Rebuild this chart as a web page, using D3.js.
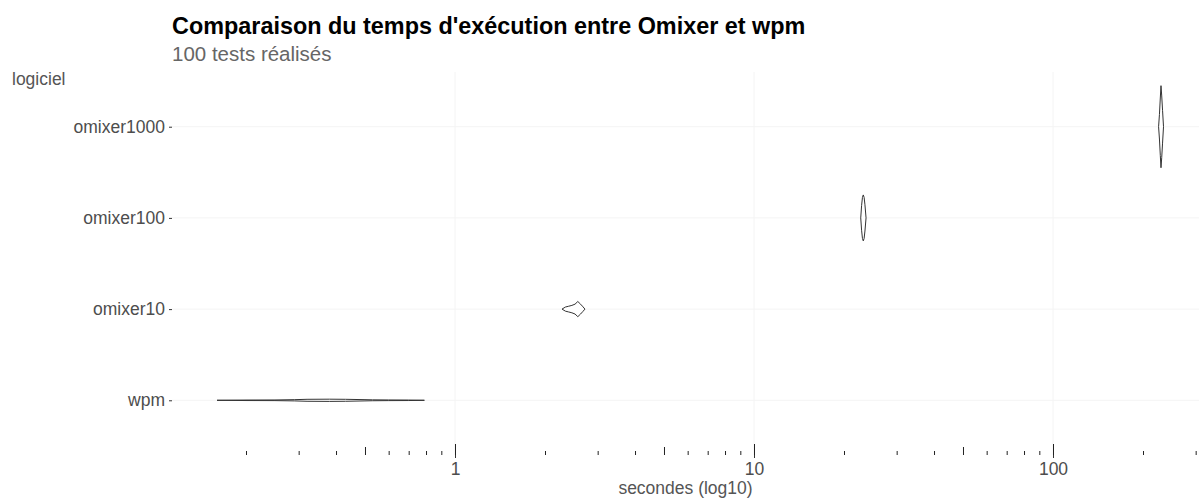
<!DOCTYPE html>
<html>
<head>
<meta charset="utf-8">
<script src="https://cdn.jsdelivr.net/npm/d3@7"></script>
<style>
  html, body { margin: 0; padding: 0; background: #fff; }
  svg { display: block; font-family: "Liberation Sans", Arial, sans-serif; }
</style>
</head>
<body>
<svg id="chart" width="1199" height="498"></svg>
<script>
/* ---------- data ---------- */
const categories = ['omixer1000', 'omixer100', 'omixer10', 'wpm'];

// violin outlines: [seconds, relative density (1 = widest violin)]
const profOmixer1000 = [[225.5, 0], [227, 0.3], [228.5, 0.7], [229.7, 1.0], [231, 0.75], [232.5, 0.4], [234.2, 0]];
const profOmixer100  = [[22.75, 0], [22.9, 0.3], [23.05, 0.5], [23.2, 0.56], [23.35, 0.5], [23.5, 0.32], [23.7, 0]];
const profOmixer10   = [[2.28, 0], [2.34, 0.05], [2.40, 0.07], [2.46, 0.09], [2.52, 0.12], [2.575, 0.185], [2.63, 0.12], [2.68, 0.055], [2.72, 0]];
const profWpm        = [[0.16, 0], [0.2, 0.006], [0.25, 0.008], [0.29, 0.015], [0.32, 0.024], [0.38, 0.027], [0.43, 0.024], [0.5, 0.015], [0.53, 0.011], [0.6, 0.008], [0.7, 0.006], [0.79, 0]];
const profiles = [profOmixer1000, profOmixer100, profOmixer10, profWpm];

const majorTicks = [1, 10, 100];
const midTicks   = [0.5, 5, 50];
const minorTicks = [0.2, 0.3, 0.4, 0.6, 0.7, 0.8, 0.9, 2, 3, 4, 6, 7, 8, 9, 20, 30, 40, 60, 70, 80, 90, 200, 300];

const title    = "Comparaison du temps d'exécution entre Omixer et wpm";
const subtitle = '100 tests réalisés';
const yTitle   = 'logiciel';
const xTitle   = 'secondes (log10)';

/* ---------- layout ---------- */
const W = 1199, H = 498;
const panel = { left: 172, right: 1199, top: 72, bottom: 455 };
const decade = 299;                  // px per power of ten
const xOne = 455;                    // where 1 s sits

const svg = d3.select('#chart');

const x = d3.scaleLog()
  .domain([0.1, 1000])
  .range([xOne - decade, xOne + 3 * decade]);

const y = d3.scalePoint()
  .domain(categories)
  .range([panel.top, panel.bottom])
  .padding(0.6);

const halfBand = 0.45 * y.step();

/* ---------- grid ---------- */
const grid = svg.append('g').attr('class', 'grid');
grid.selectAll('line.v')
  .data(majorTicks)
  .join('line')
  .attr('class', 'v')
  .attr('x1', d => x(d)).attr('x2', d => x(d))
  .attr('y1', panel.top).attr('y2', panel.bottom)
  .attr('stroke', '#f4f4f4').attr('stroke-width', 1);

grid.selectAll('line.h')
  .data(categories)
  .join('line')
  .attr('class', 'h')
  .attr('x1', panel.left).attr('x2', panel.right)
  .attr('y1', d => y(d)).attr('y2', d => y(d))
  .attr('stroke', '#f4f4f4').attr('stroke-width', 1);

/* ---------- violins ---------- */
const area = d3.area()
  .x(d => x(d[0]))
  .y0(d => d.cy - d[1] * halfBand)
  .y1(d => d.cy + d[1] * halfBand);

svg.append('g').attr('class', 'violins')
  .selectAll('path')
  .data(categories)
  .join('path')
  .attr('d', (c, i) => {
    const cy = y(c);
    const pts = profiles[i].map(p => Object.assign([p[0], p[1]], { cy }));
    return area(pts);
  })
  .attr('fill', '#fff')
  .attr('stroke', '#333')
  .attr('stroke-width', 1);

/* ---------- log ticks (annotation_logticks) ---------- */
function logAxis(values, size) {
  const ax = d3.axisTop(x).tickValues(values).tickSize(size).tickFormat('');
  const g = svg.append('g')
    .attr('transform', `translate(0,${panel.bottom})`)
    .call(ax);
  g.select('.domain').remove();
  g.selectAll('line').attr('stroke', '#222').attr('stroke-width', 1);
}
logAxis(minorTicks, 4);
logAxis(midTicks, 8);
logAxis(majorTicks, 11);

/* ---------- x axis ---------- */
const xAxis = svg.append('g')
  .attr('transform', `translate(0,${panel.bottom})`)
  .call(d3.axisBottom(x).tickValues(majorTicks).tickSize(3).tickPadding(5).tickFormat(d3.format('d')));
xAxis.select('.domain').remove();
xAxis.selectAll('line').attr('stroke', '#333');
xAxis.selectAll('text')
  .attr('fill', '#4d4d4d')
  .style('font-size', '17.5px')
  .style('font-family', '"Liberation Sans", Arial, sans-serif');

/* ---------- y axis ---------- */
const yAxis = svg.append('g')
  .attr('transform', `translate(${panel.left},0)`)
  .call(d3.axisLeft(y).tickSize(3).tickPadding(4));
yAxis.select('.domain').remove();
yAxis.selectAll('line').attr('stroke', '#333');
yAxis.selectAll('text')
  .attr('fill', '#4d4d4d')
  .style('font-size', '17.5px')
  .style('font-family', '"Liberation Sans", Arial, sans-serif');

/* ---------- titles ---------- */
svg.append('text')
  .attr('x', panel.left).attr('y', 34)
  .attr('fill', '#000')
  .style('font-size', '23.4px').style('font-weight', 'bold')
  .text(title);

svg.append('text')
  .attr('x', panel.left).attr('y', 61)
  .attr('fill', '#666')
  .style('font-size', '20.5px')
  .text(subtitle);

svg.append('text')
  .attr('x', 12).attr('y', 85)
  .attr('fill', '#555')
  .style('font-size', '17.5px')
  .text(yTitle);

svg.append('text')
  .attr('x', (panel.left + panel.right) / 2).attr('y', 494)
  .attr('text-anchor', 'middle')
  .attr('fill', '#555')
  .style('font-size', '17.5px')
  .text(xTitle);
</script>
</body>
</html>
